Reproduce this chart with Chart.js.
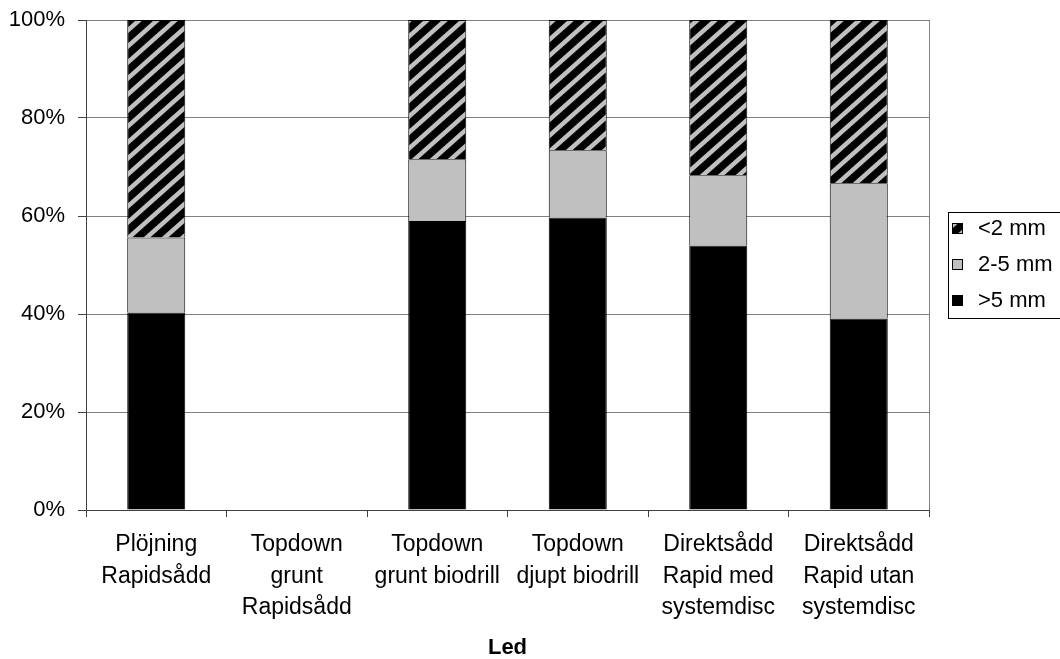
<!DOCTYPE html>
<html>
<head>
<meta charset="utf-8">
<script src="https://cdn.jsdelivr.net/npm/chart.js@4"></script>
<style>
  html, body { margin: 0; padding: 0; background: #fff; }
  canvas { display: block; }
</style>
</head>
<body>
<canvas id="c" width="1060" height="659"></canvas>
<script>
// Aggregatfördelning per led (andel av vikt, %)
const categories = [
  ['Plöjning', 'Rapidsådd'],
  ['Topdown', 'grunt', 'Rapidsådd'],
  ['Topdown', 'grunt biodrill'],
  ['Topdown', 'djupt biodrill'],
  ['Direktsådd', 'Rapid med', 'systemdisc'],
  ['Direktsådd', 'Rapid utan', 'systemdisc']
];
const over5mm  = [40.3, null, 59.0, 59.7, 54.0, 39.1];
const mid2to5  = [15.3, null, 12.6, 13.7, 14.3, 27.6];
const under2mm = [44.4, null, 28.4, 26.6, 31.7, 33.3];
const yTicks = [0, 20, 40, 60, 80, 100];
const xTitle = 'Led';

const FONT = "'Liberation Sans', Arial, sans-serif";

// diagonal stripe fill for the finest fraction
function stripePattern() {
  const w = 18, h = 16;
  const t = document.createElement('canvas');
  t.width = w; t.height = h;
  const g = t.getContext('2d');
  g.fillStyle = '#000';
  g.fillRect(0, 0, w, h);
  g.strokeStyle = '#c0c0c0';
  g.lineWidth = 4.5;
  for (let k = -1; k <= 1; k++) {
    g.beginPath();
    g.moveTo(k * w - w, 2 * h);
    g.lineTo(k * w + 2 * w, -h);
    g.stroke();
  }
  const ctx = document.getElementById('c').getContext('2d');
  return ctx.createPattern(t, 'repeat');
}
const hatch = stripePattern();

// plot frame (right edge) and the boxed legend at the right side
const framePlugin = {
  id: 'frameAndLegend',
  afterDraw(chart) {
    const { ctx, chartArea } = chart;
    ctx.save();
    ctx.strokeStyle = '#808080';
    ctx.lineWidth = 1;
    ctx.beginPath();
    ctx.moveTo(Math.round(chartArea.right) + 0.5, chartArea.top);
    ctx.lineTo(Math.round(chartArea.right) + 0.5, chartArea.bottom);
    ctx.stroke();

    // legend box
    const bx = 948.5, by = 212.5, bw = 130, bh = 106;
    ctx.strokeStyle = '#000';
    ctx.strokeRect(bx, by, bw, bh);
    const ds = chart.data.datasets.slice().reverse();
    const rows = [228, 264, 300];
    ctx.font = '22px ' + FONT;
    ctx.textBaseline = 'middle';
    ctx.textAlign = 'left';
    ds.forEach((d, i) => {
      const y = rows[i];
      ctx.fillStyle = d.backgroundColor;
      ctx.fillRect(952, y - 5, 11, 11);
      ctx.strokeStyle = '#000';
      ctx.strokeRect(952.5, y - 4.5, 10, 10);
      ctx.fillStyle = '#000';
      ctx.fillText(d.label, 978, y + 1);
    });
    ctx.restore();
  }
};

new Chart(document.getElementById('c'), {
  type: 'bar',
  data: {
    labels: categories,
    datasets: [
      { label: '>5 mm',  data: over5mm,  backgroundColor: '#000000', borderColor: '#000', borderWidth: 1 },
      { label: '2-5 mm', data: mid2to5,  backgroundColor: '#c0c0c0', borderColor: '#000', borderWidth: 1 },
      { label: '<2 mm',  data: under2mm, backgroundColor: hatch,     borderColor: '#000', borderWidth: 1 }
    ]
  },
  options: {
    responsive: false,
    animation: false,
    devicePixelRatio: 1,
    layout: { padding: { top: 20, right: 131, bottom: 0, left: 0 } },
    plugins: {
      legend: { display: false },
      tooltip: { enabled: false }
    },
    datasets: {
      bar: { categoryPercentage: 1.0, barPercentage: 0.413 }
    },
    scales: {
      x: {
        stacked: true,
        offset: true,
        grid: {
          offset: true,
          drawOnChartArea: false,
          drawTicks: true,
          tickLength: 7,
          tickColor: '#404040'
        },
        border: { color: '#404040', width: 1 },
        ticks: {
          color: '#000',
          padding: 12,
          maxRotation: 0,
          autoSkip: false,
          font: { family: FONT, size: 23, lineHeight: 1.37 }
        },
        title: {
          display: true,
          text: xTitle,
          color: '#000',
          padding: { top: 0, bottom: 0 },
          font: { family: FONT, size: 22, weight: 'bold', lineHeight: 1.0 }
        },
        afterFit(scale) { scale.height = 149; }
      },
      y: {
        stacked: true,
        min: 0,
        max: 100,
        afterBuildTicks(scale) { scale.ticks = yTicks.map(v => ({ value: v })); },
        grid: {
          color: '#808080',
          tickColor: '#404040',
          tickLength: 8
        },
        border: { color: '#404040', width: 1 },
        ticks: {
          color: '#000',
          padding: 13,
          font: { family: FONT, size: 22 },
          callback: v => v + '%'
        },
        afterFit(scale) {
          scale.width = 86;
          scale.paddingTop = 0;
          scale.paddingBottom = 0;
        }
      }
    }
  },
  plugins: [framePlugin]
});
</script>
</body>
</html>
